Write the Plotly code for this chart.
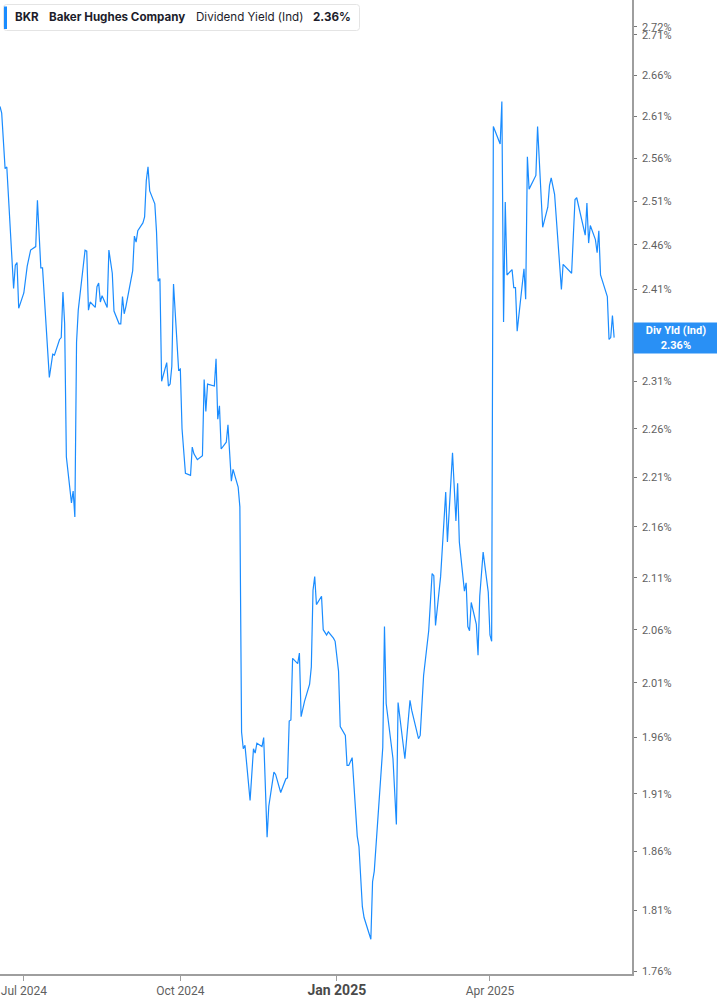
import math
import plotly.graph_objects as go

# ---------------- data ----------------
dates = [
    "2024-06-17", "2024-06-18", "2024-06-20", "2024-06-21", "2024-06-25", "2024-06-26", "2024-06-27", "2024-06-28",
    "2024-07-01", "2024-07-03", "2024-07-05", "2024-07-08", "2024-07-09", "2024-07-11", "2024-07-12", "2024-07-16",
    "2024-07-18", "2024-07-19", "2024-07-22", "2024-07-23", "2024-07-24", "2024-07-25", "2024-07-26", "2024-07-29",
    "2024-07-30", "2024-07-31", "2024-08-01", "2024-08-02", "2024-08-06", "2024-08-07", "2024-08-08", "2024-08-09",
    "2024-08-12", "2024-08-13", "2024-08-14", "2024-08-15", "2024-08-16", "2024-08-19", "2024-08-20", "2024-08-22",
    "2024-08-23", "2024-08-26", "2024-08-27", "2024-08-28", "2024-08-29", "2024-08-30", "2024-09-03", "2024-09-04",
    "2024-09-05", "2024-09-06", "2024-09-09", "2024-09-10", "2024-09-11", "2024-09-12", "2024-09-13", "2024-09-16",
    "2024-09-17", "2024-09-18", "2024-09-19", "2024-09-20", "2024-09-23", "2024-09-24", "2024-09-25", "2024-09-26",
    "2024-09-27", "2024-09-30", "2024-10-01", "2024-10-02", "2024-10-04", "2024-10-07", "2024-10-08", "2024-10-09",
    "2024-10-11", "2024-10-14", "2024-10-15", "2024-10-16", "2024-10-17", "2024-10-21", "2024-10-22", "2024-10-23",
    "2024-10-24", "2024-10-25", "2024-10-28", "2024-10-29", "2024-10-31", "2024-11-01", "2024-11-04", "2024-11-05",
    "2024-11-06", "2024-11-07", "2024-11-08", "2024-11-11", "2024-11-13", "2024-11-14", "2024-11-15", "2024-11-18",
    "2024-11-19", "2024-11-21", "2024-11-22", "2024-11-25", "2024-11-26", "2024-11-29", "2024-12-02", "2024-12-03",
    "2024-12-04", "2024-12-05", "2024-12-06", "2024-12-09", "2024-12-10", "2024-12-11", "2024-12-13", "2024-12-16",
    "2024-12-17", "2024-12-18", "2024-12-19", "2024-12-20", "2024-12-23", "2024-12-24", "2024-12-26", "2024-12-27",
    "2024-12-30", "2024-12-31", "2025-01-02", "2025-01-03", "2025-01-06", "2025-01-07", "2025-01-08", "2025-01-10",
    "2025-01-13", "2025-01-14", "2025-01-16", "2025-01-17", "2025-01-21", "2025-01-22", "2025-01-23", "2025-01-27",
    "2025-01-28", "2025-01-29", "2025-01-30", "2025-02-03", "2025-02-05", "2025-02-06", "2025-02-10", "2025-02-13",
    "2025-02-14", "2025-02-18", "2025-02-19", "2025-02-21", "2025-02-24", "2025-02-26", "2025-02-27", "2025-02-28",
    "2025-03-03", "2025-03-06", "2025-03-07", "2025-03-10", "2025-03-12", "2025-03-13", "2025-03-14", "2025-03-17",
    "2025-03-18", "2025-03-19", "2025-03-20", "2025-03-21", "2025-03-24", "2025-03-25", "2025-03-26", "2025-03-28",
    "2025-03-31", "2025-04-01", "2025-04-02", "2025-04-03", "2025-04-07", "2025-04-08", "2025-04-09", "2025-04-10",
    "2025-04-11", "2025-04-14", "2025-04-15", "2025-04-16", "2025-04-17", "2025-04-21", "2025-04-22", "2025-04-23",
    "2025-04-24", "2025-04-28", "2025-04-29", "2025-05-02", "2025-05-05", "2025-05-06", "2025-05-07", "2025-05-09",
    "2025-05-13", "2025-05-14", "2025-05-19", "2025-05-21", "2025-05-22", "2025-05-27", "2025-05-28", "2025-05-29",
    "2025-05-30", "2025-06-02", "2025-06-03", "2025-06-04", "2025-06-05", "2025-06-09", "2025-06-10", "2025-06-11",
    "2025-06-12", "2025-06-13",
]

div_yield = [
    2.622, 2.614, 2.548, 2.550, 2.411, 2.437, 2.440, 2.389,
    2.406, 2.436, 2.454, 2.458, 2.511, 2.434, 2.434, 2.314,
    2.339, 2.338, 2.355, 2.357, 2.407, 2.372, 2.231, 2.184,
    2.196, 2.170, 2.352, 2.387, 2.454, 2.453, 2.387, 2.396,
    2.390, 2.413, 2.417, 2.396, 2.403, 2.390, 2.454, 2.428,
    2.386, 2.372, 2.372, 2.402, 2.383, 2.391, 2.431, 2.470,
    2.463, 2.476, 2.485, 2.492, 2.534, 2.550, 2.522, 2.507,
    2.475, 2.419, 2.422, 2.310, 2.330, 2.305, 2.307, 2.326,
    2.416, 2.322, 2.323, 2.260, 2.214, 2.212, 2.241, 2.234,
    2.228, 2.232, 2.312, 2.278, 2.307, 2.305, 2.334, 2.270,
    2.284, 2.239, 2.246, 2.264, 2.206, 2.218, 2.200, 2.180,
    1.965, 1.950, 1.953, 1.904, 1.950, 1.946, 1.955, 1.952,
    1.960, 1.872, 1.899, 1.929, 1.927, 1.911, 1.923, 1.924,
    1.975, 1.976, 2.033, 2.028, 2.038, 1.979, 1.993, 2.009,
    2.025, 2.098, 2.111, 2.084, 2.092, 2.060, 2.055, 2.058,
    2.052, 2.049, 2.021, 1.970, 1.962, 1.935, 1.935, 1.942,
    1.873, 1.864, 1.813, 1.804, 1.786, 1.834, 1.843, 1.930,
    1.951, 2.063, 1.991, 1.941, 1.883, 1.992, 1.941, 1.994,
    1.985, 1.959, 1.962, 2.017, 2.059, 2.114, 2.112, 2.064,
    2.111, 2.195, 2.145, 2.235, 2.166, 2.204, 2.145, 2.097,
    2.105, 2.063, 2.059, 2.086, 2.065, 2.036, 2.092, 2.135,
    2.096, 2.055, 2.049, 2.598, 2.577, 2.628, 2.374, 2.509,
    2.426, 2.432, 2.412, 2.412, 2.364, 2.433, 2.399, 2.562,
    2.524, 2.540, 2.598, 2.480, 2.503, 2.528, 2.537, 2.518,
    2.410, 2.438, 2.428, 2.512, 2.514, 2.471, 2.508, 2.462,
    2.482, 2.466, 2.451, 2.476, 2.426, 2.402, 2.355, 2.357,
    2.381, 2.357,
]

x_tick_dates = ["2024-07-01", "2024-10-01", "2025-01-01", "2025-04-01"]
x_tick_labels = ["Jul 2024", "Oct 2024", "Jan 2025", "Apr 2025"]
x_major_label = "Jan 2025"
y_tick_values = [2.72, 2.71, 2.66, 2.61, 2.56, 2.51, 2.46, 2.41, 2.31, 2.26,
                 2.21, 2.16, 2.11, 2.06, 2.01, 1.96, 1.91, 1.86, 1.81, 1.76]

ticker = "BKR"
company = "Baker Hughes Company"
metric = "Dividend Yield (Ind)"
metric_short = "Div Yld (Ind)"

# ---------------- layout helpers ----------------
W, H = 717, 1005
PW, PH = 632, 974          # plot area size in px (margins r=85, b=31)


def px(x):
    return x / PW


def py(y):
    return 1 - y / PH


BLUE = "#1a8cff"
BOX_BLUE = "#2990f5"
AXIS = "#9e9e9e"
TICK_TXT = "#5f5f5f"
TXT = "#1d1d2b"

last = div_yield[-1]
last_txt = f"{last:.2f}%"

x_ticktext = [
    f"<b><span style='font-size:14px;color:#4a4a4a'>{t}</span></b>" if t == x_major_label else t
    for t in x_tick_labels
]

fig = go.Figure(
    go.Scatter(
        x=dates, y=div_yield, mode="lines",
        line=dict(color=BLUE, width=1.2),
        hoverinfo="skip", showlegend=False,
    )
)

fig.update_layout(
    width=W, height=H,
    margin=dict(l=0, r=W - PW, t=0, b=H - PH),
    paper_bgcolor="white", plot_bgcolor="white",
    font=dict(family="Roboto, Arial, sans-serif", color=TICK_TXT),
    xaxis=dict(
        type="date",
        range=["2024-06-17", "2025-06-23 12:00"],
        tickvals=x_tick_dates, ticktext=x_ticktext,
        showgrid=False, zeroline=False,
        showline=True, linecolor=AXIS, linewidth=1.5,
        ticks="outside", ticklen=5, tickcolor=AXIS, tickwidth=1,
        tickfont=dict(family="Roboto, Arial, sans-serif", size=12, color=TICK_TXT),
        fixedrange=True,
    ),
    yaxis=dict(
        type="log", side="right",
        range=[math.log10(1.7576), math.log10(2.754)],
        tickvals=y_tick_values,
        ticktext=[f"{v:.2f}%" for v in y_tick_values],
        showgrid=False, zeroline=False,
        showline=True, linecolor=AXIS, linewidth=1.5,
        ticks="outside", ticklen=3, tickcolor="#777777", tickwidth=1,
        ticklabelstandoff=3,
        tickfont=dict(family="Roboto, Arial, sans-serif", size=11, color=TICK_TXT),
        fixedrange=True,
    ),
)

# legend box (rounded rectangle) with blue marker bar
x0, x1, y0, y1, r = 3.5, 359.5, 4.5, 30.5, 3
rx, ry = r / PW, r / PH
X0, X1, Y0, Y1 = px(x0), px(x1), py(y0), py(y1)
path = (
    f"M {X0+rx},{Y0} L {X1-rx},{Y0} Q {X1},{Y0} {X1},{Y0-ry} "
    f"L {X1},{Y1+ry} Q {X1},{Y1} {X1-rx},{Y1} "
    f"L {X0+rx},{Y1} Q {X0},{Y1} {X0},{Y1+ry} "
    f"L {X0},{Y0-ry} Q {X0},{Y0} {X0+rx},{Y0} Z"
)
fig.add_shape(type="path", path=path, xref="paper", yref="paper",
              fillcolor="white", line=dict(color="#e4e4e4", width=1), layer="above")
fig.add_shape(type="rect", xref="paper", yref="paper",
              x0=px(4), x1=px(7), y0=py(6.5), y1=py(29),
              fillcolor=BLUE, line=dict(width=0), layer="above")

legend_items = [
    (13.3, f"<b>{ticker}</b>"),
    (47.3, f"<b>{company}</b>"),
    (194, metric),
    (310.7, f"<b>{last_txt}</b>"),
]
for xpos, txt in legend_items:
    fig.add_annotation(
        x=px(xpos), y=py(17.5), xref="paper", yref="paper",
        xanchor="left", yanchor="middle", showarrow=False,
        text=txt, font=dict(family="Inter, Roboto, sans-serif", size=11.6, color=TXT),
    )

# last value label on the right axis
fig.add_annotation(
    x=1, xref="paper", xanchor="left", xshift=1,
    y=math.log10(last), yref="y", yanchor="middle",
    showarrow=False, align="center",
    text=f"<b>{metric_short}</b><br><b>{last_txt}</b>",
    font=dict(family="Roboto, Arial, sans-serif", size=11, color="white"),
    bgcolor=BOX_BLUE, width=82, height=28, borderpad=1,
)

fig.write_html(
    "out.html",
    config={"displayModeBar": False},
    post_script="document.body.style.margin='0';document.body.style.padding='0';",
)
